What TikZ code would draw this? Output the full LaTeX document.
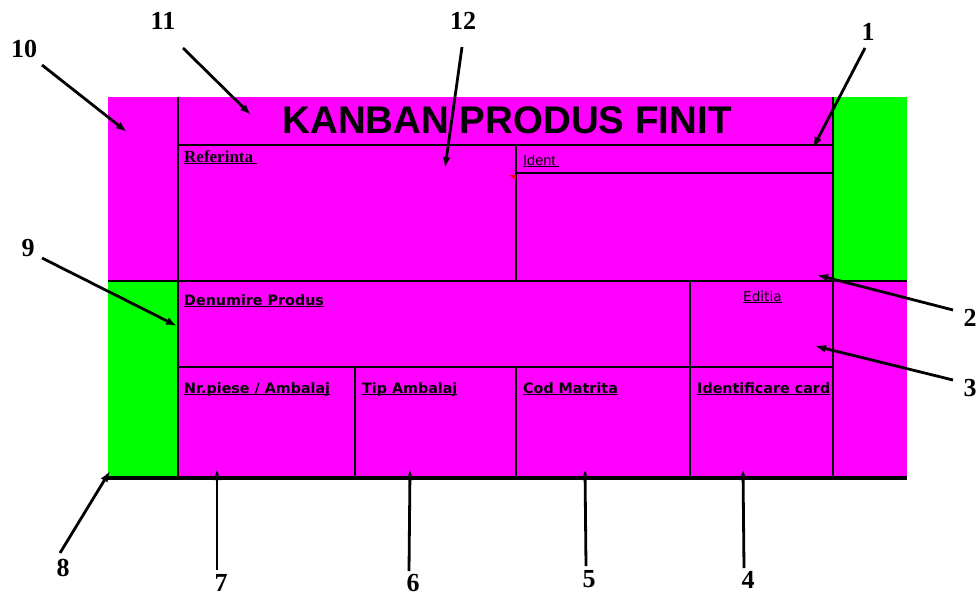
\documentclass[tikz,border=0pt]{standalone}
\usepackage{fontspec}
\usetikzlibrary{arrows.meta}
\newfontfamily\numfont{Liberation Serif}
\newfontfamily\arialf{Liberation Sans}
\newfontfamily\verdf{DejaVu Sans}
\newcommand\ulbox[1]{\setbox0\hbox{#1}\rlap{\rule[-1.8pt]{\wd0}{1.2pt}}\box0}
\definecolor{mag}{HTML}{FF00FF}
\definecolor{grn}{HTML}{00FF00}
\begin{document}
\begin{tikzpicture}[x=1pt,y=-1pt,
  grid/.style={line width=2.6pt, black},
  arr/.style={line width=2.8pt, -{Latex[length=11pt,width=8pt]}},
  num/.style={font=\numfont\bfseries\fontsize{26}{26}\selectfont, inner sep=0},
  lbl/.style={anchor=base west, inner sep=0, font=\verdf\bfseries\fontsize{14.3}{16}\selectfont}]
\useasboundingbox (0,0) rectangle (979,597);
% card background
\fill[mag] (108,97) rectangle (907,478);
\fill[grn] (834,97) rectangle (907,281);
\fill[grn] (108,281) rectangle (178,478);
% grid
\draw[grid] (178,97) -- (178,478);
\draw[grid] (833,97) -- (833,478);
\draw[grid] (178,145) -- (833,145);
\draw[grid] (516,145) -- (516,281);
\draw[grid] (516,173) -- (833,173);
\draw[grid] (108,281) -- (907,281);
\draw[grid] (690,281) -- (690,478);
\draw[grid] (178,367) -- (833,367);
\draw[grid] (355,367) -- (355,478);
\draw[grid] (516,367) -- (516,478);
\draw[line width=3.6pt] (108,478) -- (907,478);
\fill[red] (509,175) -- (516,175) -- (516,180) -- cycle;
% texts
\node[inner sep=0, font=\arialf\bfseries\fontsize{38.5}{40}\selectfont] (title) at (507,120) {KANBAN PRODUS FINIT};
\node[anchor=base west, inner sep=0, font=\numfont\bfseries\fontsize{17}{19}\selectfont] (ref) at (184,162) {\ulbox{Referinta\ }};
\node[anchor=base west, inner sep=0, font=\arialf\fontsize{14.5}{16}\selectfont] (ident) at (523,165) {\ulbox{Ident\ }};
\node[lbl] (den) at (184,305) {\ulbox{Denumire Produs}};
\node[anchor=base west, inner sep=0, font=\verdf\fontsize{13.6}{15}\selectfont] (edi) at (743,301) {\ulbox{Editia}};
\node[lbl] (nrp) at (184,393) {\ulbox{Nr.piese / Ambalaj}};
\node[lbl] (tip) at (362,393) {\ulbox{Tip Ambalaj}};
\node[lbl] (cod) at (523,393) {\ulbox{Cod Matrita}};
\node[lbl] (idc) at (697,393) {\ulbox{Identificare card}};
% number labels
\node[num] (n10) at (24,49) {10};
\node[num] (n11) at (163,21) {11};
\node[num] (n12) at (463,21) {12};
\node[num] (n1) at (868,32) {1};
\node[num] (n9) at (28,248) {9};
\node[num] (n2) at (970,318) {2};
\node[num] (n3) at (970,388) {3};
\node[num] (n8) at (63,568) {8};
\node[num] (n7) at (221,583) {7};
\node[num] (n6) at (413,583) {6};
\node[num] (n5) at (589,579) {5};
\node[num] (n4) at (748,580) {4};
% arrow ends
\coordinate (s10) at (42,65);   \coordinate (t10) at (127,132);
\coordinate (s11) at (183,48);  \coordinate (t11) at (251,115);
\coordinate (s12) at (462,47);  \coordinate (t12) at (445,168);
\coordinate (s1) at (865,48);   \coordinate (t1) at (813,148);
\coordinate (s2) at (953,310);  \coordinate (t2) at (817,275);
\coordinate (s3) at (953,380);  \coordinate (t3) at (815,346);
\coordinate (s9) at (42,258);   \coordinate (t9) at (177,326);
\coordinate (s8) at (60,553);   \coordinate (t8) at (110,471);
\coordinate (s7) at (217,570);  \coordinate (t7) at (217,469);
\coordinate (s6) at (409,571);  \coordinate (t6) at (410,469);
\coordinate (s5) at (586,566);  \coordinate (t5) at (585,469);
\coordinate (s4) at (744,568);  \coordinate (t4) at (743,469);
\foreach \k in {10,11,12,1,2,3,9,8,7,6,5,4}
  \draw[arr] (s\k) -- (t\k);
\end{tikzpicture}
\end{document}
